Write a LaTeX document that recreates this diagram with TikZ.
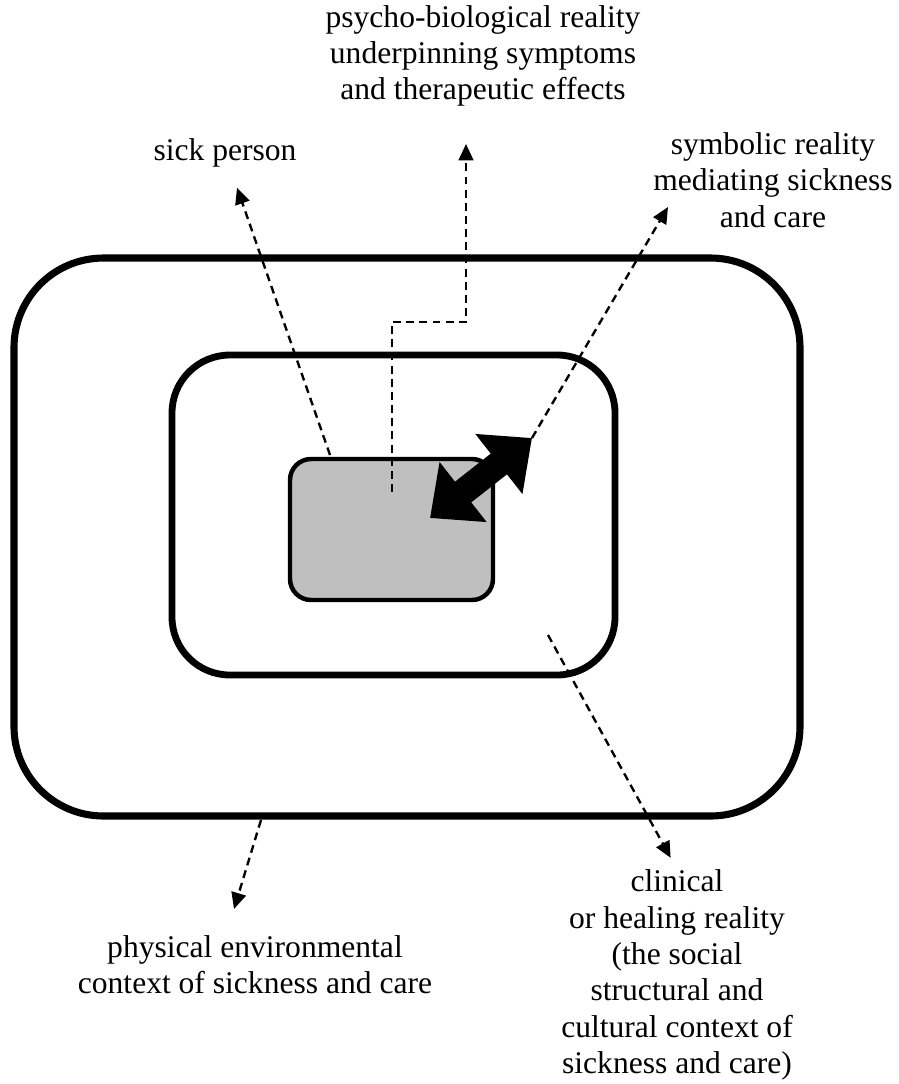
\documentclass[tikz,border=0pt]{standalone}
\usepackage{fontspec}
\setmainfont{Liberation Serif}
\usetikzlibrary{positioning, arrows.meta, calc, fit}

\begin{document}
\begin{tikzpicture}[
  x=0.38pt, y=-0.38pt,
  every node/.style={font=\fontsize{12}{13.8}\selectfont},
  ring/.style      = {draw, rounded corners=#1, inner sep=0pt},
  outerring/.style = {ring=34pt, line width=2.7pt},
  innerring/.style = {ring=22pt, line width=2.6pt},
  person/.style    = {ring=8pt, line width=1.7pt, fill=gray!50},
  lbl/.style       = {align=center, inner sep=0pt},
  dasharr/.style   = {-{Triangle[length=6.2pt, width=5.6pt]}, line width=0.9pt, dash pattern=on 3pt off 2pt},
  bigarr/.style    = {{Triangle[length=16pt, width=28pt]}-{Triangle[length=16pt, width=28pt]}, line width=10pt},
]
  \useasboundingbox (0,0) rectangle (899,1084);
  % Nested contexts: environment > clinical reality > sick person.
  \node[outerring, fit={(14,258) (800,816)}] (env)    {};
  \node[innerring, fit={(172,355) (615,675)}] (clinic) {};
  \node[person,    fit={(290,459) (493,600)}] (pers)   {};
  % Labels round the picture.
  \node[lbl] (psy)  at (483,56)  {psycho-biological reality\\underpinning symptoms\\and therapeutic effects};
  \node[lbl] (sick) at (225,153) {sick person};
  \node[lbl] (sym)  at (773,180) {symbolic reality\\mediating sickness\\and care};
  \node[lbl] (phys) at (255,965) {physical environmental\\context of sickness and care};
  \node[lbl] (clin) at (677,975) {clinical\\or healing reality\\(the social\\structural and\\cultural context of\\sickness and care)};
  % Feet and tips of the pointers.
  \coordinate (sickFoot) at (330,455);
  \coordinate (psyFoot)  at (392,492);
  \coordinate (psyBend)  at (466,322);
  \coordinate (clinFoot) at (548,635);
  \coordinate (physFoot) at (261,820);
  \coordinate (physTip)  at (234,909);
  \coordinate (symTip)   at (668,207);
  \coordinate (bigA)     at (430,518);
  \coordinate (bigB)     at (532,438);
  % Two-way exchange, then the dashed pointers.
  \draw[bigarr] (bigA) -- (bigB);
  \draw[dasharr, shorten >=8pt]  (sickFoot) -- (sick);
  \draw[dasharr]                 (bigB) -- (symTip);
  \draw[dasharr, shorten >=14pt] (psyFoot) |- (psyBend) -- (psyBend |- psy.south);
  \draw[dasharr, shorten >=5pt]  (clinFoot) -- (clin.north);
  \draw[dasharr]                 (physFoot) -- (physTip);
\end{tikzpicture}
\end{document}
